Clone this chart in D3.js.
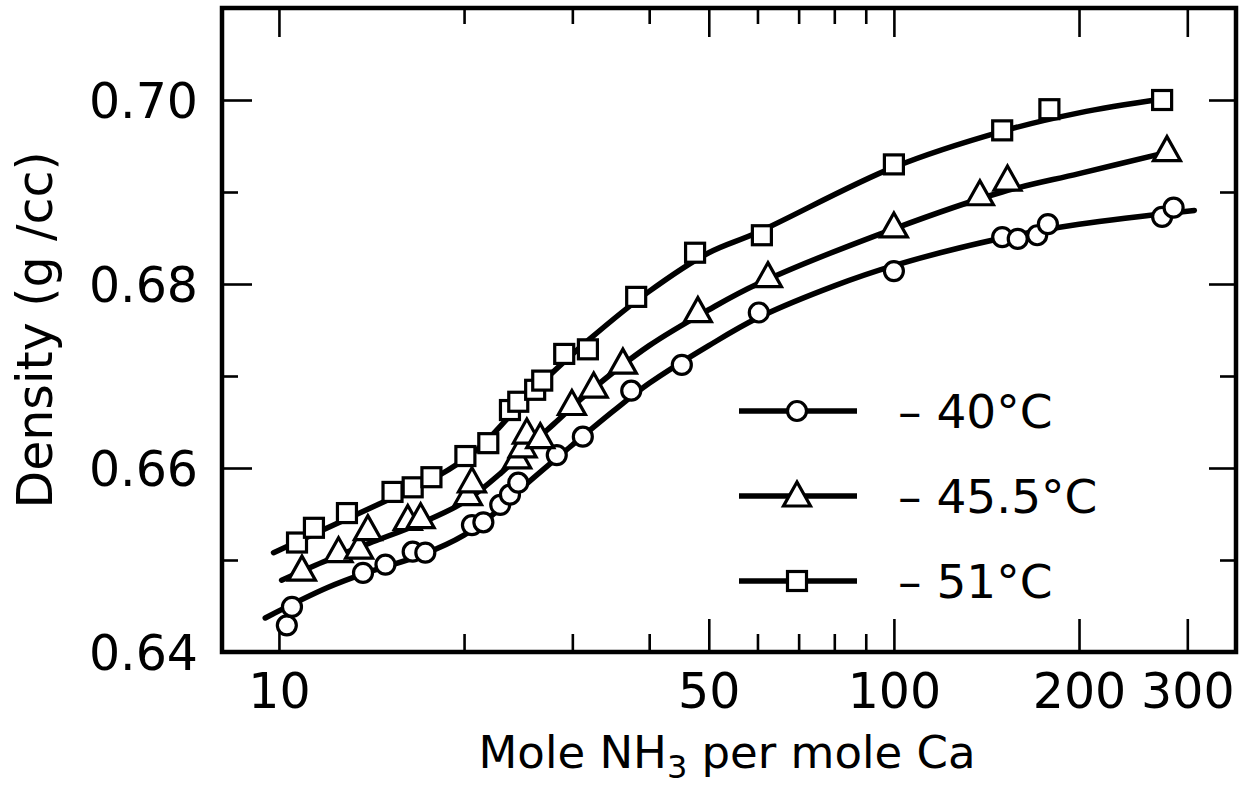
<!DOCTYPE html>
<html lang="en">
<head>
<meta charset="UTF-8">
<title>density vs mole ratio</title>
<script src="https://d3js.org/d3.v7.min.js"></script>
<style>
    body { margin: 0; background: #fff; }
    svg text { font-family: "DejaVu Sans", sans-serif; fill: #000; }
</style>
</head>
<body>
<svg id="main" width="1254" height="789"></svg>
<script>
    let c40_x = [10.3, 10.5, 13.7, 14.9, 16.5, 17.3, 20.6, 21.5, 22.9, 23.75, 24.5, 28.3, 31.2, 37.4, 45.2, 60.3, 100, 150, 159, 171, 178, 273, 285]
    let c40_y = [0.6429, 0.6449, 0.6486, 0.6495, 0.6509, 0.6508, 0.6538, 0.6541, 0.6560, 0.6571, 0.6584, 0.6614, 0.6634, 0.6684, 0.6712, 0.6769, 0.6814, 0.6851, 0.6849, 0.6853, 0.6865, 0.6873, 0.6883]

    let c45_x = [10.9, 12.5, 13.5, 13.95, 16.2, 17.0, 20.3, 20.6, 24.4, 24.9, 25.3, 26.6, 29.95, 32.5, 36.25, 48.0, 62.4, 100, 138, 153, 278]
    let c45_y = [0.6489, 0.6509, 0.6513, 0.6533, 0.6544, 0.6546, 0.6571, 0.6585, 0.6611, 0.6623, 0.6638, 0.6633, 0.6669, 0.6688, 0.6714, 0.6770, 0.6808, 0.6862, 0.6897, 0.6913, 0.6945]

    let c51_x = [10.7, 11.4, 12.9, 15.3, 16.5, 17.7, 20.1, 21.9, 23.75, 24.5, 26.1, 26.8, 29.1, 31.8, 38.1, 47.5, 61.0, 100, 150, 179, 273]
    let c51_y = [0.6519, 0.6535, 0.6551, 0.6574, 0.6579, 0.6590, 0.6613, 0.6627, 0.6663, 0.6672, 0.6685, 0.6695, 0.6724, 0.6729, 0.6786, 0.6834, 0.6853, 0.6930, 0.6967, 0.6990, 0.7000]

    // smooth fitted curves drawn through the points
    let fit40_x = [9.5, 12, 14, 17, 20, 23, 25, 30, 35, 40, 50, 60, 80, 100, 150, 200, 308]
    let fit40_y = [0.6437, 0.6470, 0.6487, 0.6505, 0.6527, 0.6557, 0.6580, 0.6625, 0.6662, 0.6692, 0.6733, 0.6763, 0.6798, 0.6820, 0.6850, 0.6865, 0.6880]

    let fit45_x = [10.1, 12, 14, 17, 20, 23, 25, 28, 32, 40, 50, 60, 100, 150, 200, 278]
    let fit45_y = [0.6478, 0.6500, 0.6518, 0.6540, 0.6563, 0.6595, 0.6618, 0.6648, 0.6683, 0.6733, 0.6772, 0.6800, 0.6860, 0.6900, 0.6920, 0.6943]

    let fit51_x = [9.8, 12, 15, 18, 21, 24, 27, 32, 40, 50, 60, 100, 150, 200, 273]
    let fit51_y = [0.6508, 0.6535, 0.6565, 0.6590, 0.6620, 0.6660, 0.6695, 0.6740, 0.6792, 0.6834, 0.6856, 0.6927, 0.6966, 0.6986, 0.7001]

    let legend_labels = ["\u2013 40\u00b0C", "\u2013 45.5\u00b0C", "\u2013 51\u00b0C"]
    let markers = ["circle", "triangle", "square"]

    let xMajor = [10, 50, 100, 200, 300]
    let xMinor = [20, 30, 40, 60, 70, 80, 90]
    let yMajor = [0.64, 0.66, 0.68, 0.70]
    let yMinor = [0.65, 0.67, 0.69]

    let svg = d3.select("#main")
    let pLeft = 222, pRight = 1236, pTop = 8, pBottom = 652

    let x = d3.scaleLog().domain([8.08, 360]).range([pLeft, pRight])
    let y = d3.scaleLinear().domain([0.64, 0.71]).range([pBottom, pTop])

    // ticks (inward, all four sides)
    function ticks(axis, tr) {
        let g = svg.append("g").attr("transform", tr).call(axis)
        g.select(".domain").remove()
        g.selectAll(".tick line").attr("stroke", "#000").attr("stroke-width", 2.6)
        return g
    }
    ticks(d3.axisBottom(x).tickValues(xMinor).tickSize(-18).tickFormat(""), `translate(0,${pBottom})`)
    ticks(d3.axisTop(x).tickValues(xMinor).tickSize(-16).tickFormat(""), `translate(0,${pTop})`)
    ticks(d3.axisTop(x).tickValues(xMajor).tickSize(-29).tickFormat(""), `translate(0,${pTop})`)
    let gx = ticks(d3.axisBottom(x).tickValues(xMajor).tickSize(-33).tickPadding(21)
        .tickFormat(d3.format("d")), `translate(0,${pBottom})`)
    gx.selectAll("text").attr("font-size", 49).attr("font-family", "DejaVu Sans")

    ticks(d3.axisLeft(y).tickValues(yMinor).tickSize(-16).tickFormat(""), `translate(${pLeft},0)`)
    ticks(d3.axisRight(y).tickValues(yMinor).tickSize(-16).tickFormat(""), `translate(${pRight},0)`)
    ticks(d3.axisRight(y).tickValues(yMajor).tickSize(-27).tickFormat(""), `translate(${pRight},0)`)
    let gy = ticks(d3.axisLeft(y).tickValues(yMajor).tickSize(-30).tickPadding(24)
        .tickFormat(d3.format(".2f")), `translate(${pLeft},0)`)
    gy.selectAll("text").attr("font-size", 49).attr("font-family", "DejaVu Sans").attr("dy", "0.36em")

    // frame
    svg.append("rect")
        .attr("x", pLeft).attr("y", pTop)
        .attr("width", pRight - pLeft).attr("height", pBottom - pTop)
        .attr("fill", "none").attr("stroke", "#000").attr("stroke-width", 4.5)

    // curves
    let line = d3.line().x(d => x(d[0])).y(d => y(d[1])).curve(d3.curveCatmullRom.alpha(0.5))
    let fits = [[fit40_x, fit40_y], [fit45_x, fit45_y], [fit51_x, fit51_y]]
    fits.forEach(function (f) {
        svg.append("path")
            .datum(d3.zip(f[0], f[1]))
            .attr("d", line)
            .attr("fill", "none").attr("stroke", "#000").attr("stroke-width", 5.5)
            .attr("stroke-linecap", "round")
    })

    // markers
    function marker(g, kind, cx, cy) {
        let m
        if (kind === "circle") {
            m = g.append("circle").attr("cx", cx).attr("cy", cy).attr("r", 9.5)
        } else if (kind === "square") {
            m = g.append("rect").attr("x", cx - 9.5).attr("y", cy - 9.5).attr("width", 19).attr("height", 19)
        } else {
            m = g.append("path").attr("d", `M${cx},${cy - 14}L${cx + 13.5},${cy + 10}L${cx - 13.5},${cy + 10}Z`)
        }
        m.attr("fill", "#fff").attr("stroke", "#000").attr("stroke-width", 3.2).attr("stroke-linejoin", "miter")
    }
    let series = [[c40_x, c40_y], [c45_x, c45_y], [c51_x, c51_y]]
    let gm = svg.append("g")
    series.forEach(function (s, i) {
        d3.zip(s[0], s[1]).forEach(function (p) {
            marker(gm, markers[i], x(p[0]), y(p[1]))
        })
    })

    // legend
    let lg = svg.append("g")
    legend_labels.forEach(function (lab, i) {
        let ly = 411 + i * 85
        lg.append("line").attr("x1", 739).attr("x2", 857).attr("y1", ly).attr("y2", ly)
            .attr("stroke", "#000").attr("stroke-width", 5.5)
        marker(lg, markers[i], 797, ly)
        lg.append("text").attr("x", 898).attr("y", ly + 17).attr("font-size", 47).text(lab)
    })

    // axis titles
    let xt = svg.append("text").attr("x", 727).attr("y", 768).attr("text-anchor", "middle").attr("font-size", 45)
    xt.append("tspan").text("Mole  NH")
    xt.append("tspan").attr("font-size", 32).attr("dy", 10).text("3")
    xt.append("tspan").attr("dy", -10).text(" per mole Ca")

    svg.append("text")
        .attr("transform", "translate(52,330) rotate(-90)")
        .attr("text-anchor", "middle").attr("font-size", 49)
        .text("Density (g /cc)")
</script>
</body>
</html>
